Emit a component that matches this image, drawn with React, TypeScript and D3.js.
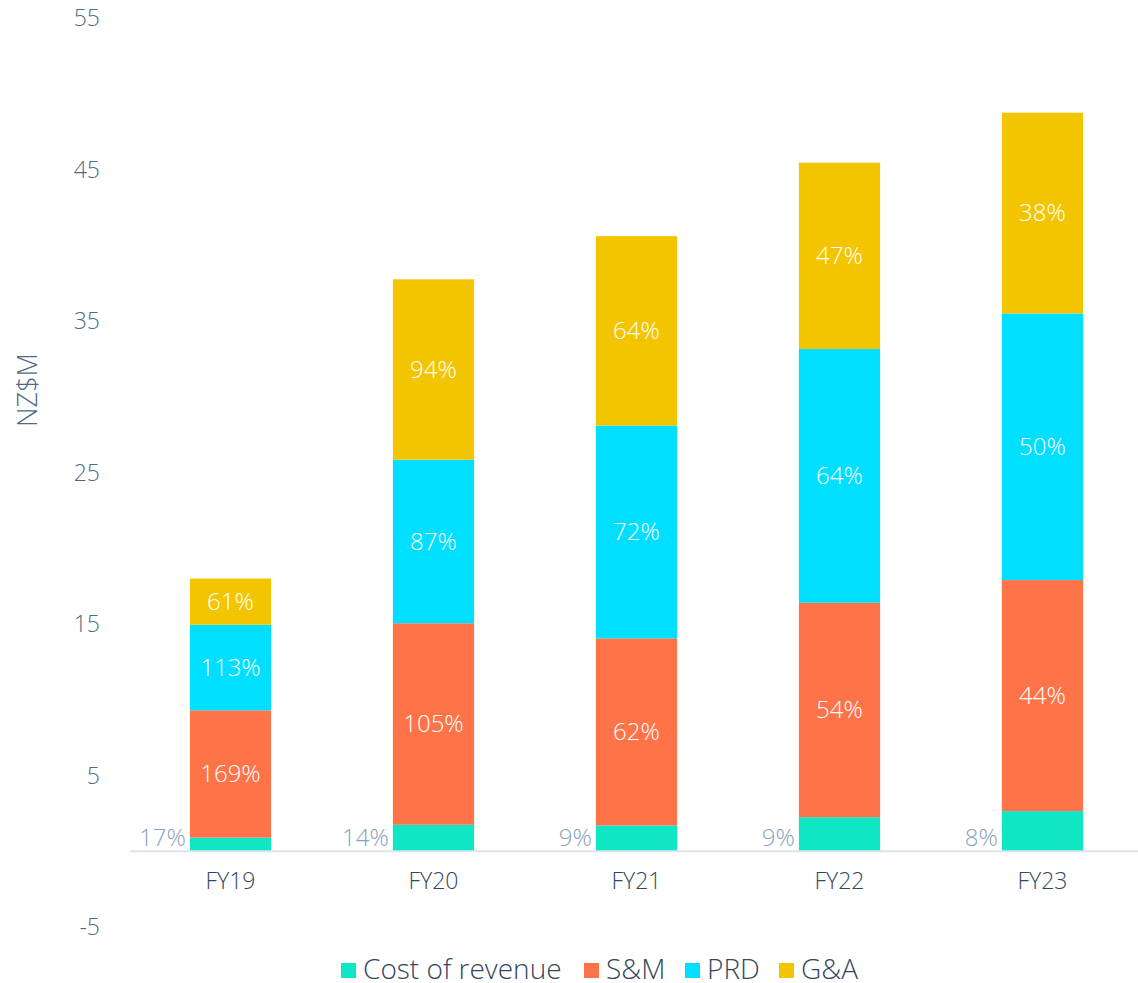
import { useEffect, useRef } from "react";
import * as d3 from "d3";

const years = ["FY19", "FY20", "FY21", "FY22", "FY23"];
const series = ["Cost of revenue", "S&M", "PRD", "G&A"];
const colors = ["#0fe6c3", "#ff7348", "#00dfff", "#f2c500"];

const costOfRevenue = [0.9, 1.75, 1.7, 2.25, 2.65];
const salesMarketing = [8.4, 13.3, 12.35, 14.15, 15.25];
const prd = [5.65, 10.8, 14.05, 16.75, 17.6];
const gna = [3.05, 11.9, 12.5, 12.3, 13.25];

const corPct = ["17%", "14%", "9%", "9%", "8%"];
const smPct = ["169%", "105%", "62%", "54%", "44%"];
const prdPct = ["113%", "87%", "72%", "64%", "50%"];
const gnaPct = ["61%", "94%", "64%", "47%", "38%"];

const yTicks = [55, 45, 35, 25, 15, 5, -5];

export default function App() {
    const ref = useRef<SVGSVGElement>(null);

    useEffect(() => {
        const width = 1138;
        const height = 983;
        const font = "'Open Sans', Lato, sans-serif";

        const svg = d3.select(ref.current)
            .attr("width", width)
            .attr("height", height)
            .style("font-family", font)
            .style("font-weight", 300);

        svg.selectAll("*").remove();

        const x = d3.scaleBand()
            .domain(years)
            .range([129, 1144])
            .paddingInner(0.6)
            .paddingOuter(0.3);

        const y = d3.scaleLinear()
            .domain([-5, 55])
            .range([927, 18]);

        const values = [costOfRevenue, salesMarketing, prd, gna];
        const labels = [corPct, smPct, prdPct, gnaPct];

        const rows = years.map((yr, i) => {
            const r: any = { year: yr };
            series.forEach((s, j) => { r[s] = values[j][i]; });
            return r;
        });

        const stacked = d3.stack().keys(series)(rows);

        // y tick labels
        svg.append("g")
            .selectAll("text")
            .data(yTicks)
            .join("text")
            .attr("x", 100)
            .attr("y", d => y(d))
            .attr("dy", "0.35em")
            .attr("text-anchor", "end")
            .attr("fill", "#4f6a86")
            .attr("font-size", 23)
            .text(d => d);

        // y label
        svg.append("text")
            .attr("transform", `translate(37, 390) rotate(-90)`)
            .attr("text-anchor", "middle")
            .attr("fill", "#4f6a86")
            .attr("font-size", 27)
            .text("NZ$M");

        // bars
        stacked.forEach((layer, j) => {
            const g = svg.append("g");
            g.selectAll("rect")
                .data(layer)
                .join("rect")
                .attr("x", (d: any) => x(d.data.year)!)
                .attr("width", x.bandwidth())
                .attr("y", d => y(d[1]))
                .attr("height", d => y(d[0]) - y(d[1]))
                .attr("fill", colors[j]);

            if (j === 0) {
                g.selectAll("text")
                    .data(layer)
                    .join("text")
                    .attr("x", (d: any) => x(d.data.year)! - 4)
                    .attr("y", y(0) - 14)
                    .attr("dy", "0.35em")
                    .attr("text-anchor", "end")
                    .attr("fill", "#8aa2bb")
                    .attr("font-size", 24)
                    .text((d, i) => labels[j][i]);
            } else {
                g.selectAll("text")
                    .data(layer)
                    .join("text")
                    .attr("x", (d: any) => x(d.data.year)! + x.bandwidth() / 2)
                    .attr("y", d => (y(d[0]) + y(d[1])) / 2)
                    .attr("dy", "0.35em")
                    .attr("text-anchor", "middle")
                    .attr("fill", "#ffffff")
                    .attr("font-size", 24)
                    .text((d, i) => labels[j][i]);
            }
        });

        // zero line
        svg.append("line")
            .attr("x1", 130)
            .attr("x2", 1138)
            .attr("y1", y(0))
            .attr("y2", y(0))
            .attr("stroke", "#dfe3eb")
            .attr("stroke-width", 2);

        // x labels
        svg.append("g")
            .selectAll("text")
            .data(years)
            .join("text")
            .attr("x", d => x(d)! + x.bandwidth() / 2)
            .attr("y", 889)
            .attr("text-anchor", "middle")
            .attr("fill", "#33475b")
            .attr("font-size", 23)
            .text(d => d);

        // legend
        const legendX = [341, 584, 685, 779];
        const legend = svg.append("g");
        series.forEach((s, j) => {
            legend.append("rect")
                .attr("x", legendX[j])
                .attr("y", 963)
                .attr("width", 15)
                .attr("height", 15)
                .attr("fill", colors[j]);
            legend.append("text")
                .attr("x", legendX[j] + 22)
                .attr("y", 979)
                .attr("fill", "#33475b")
                .attr("font-size", 28)
                .text(s);
        });
    }, []);

    return <svg ref={ref} style={{ display: "block", position: "absolute", left: 0, top: 0 }}></svg>;
}
